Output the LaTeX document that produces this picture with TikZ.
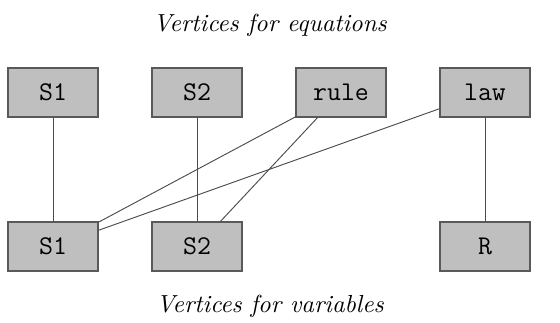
\documentclass[tikz,border=0pt]{standalone}
\begin{document}
\begin{tikzpicture}[x=0.4255pt,y=-0.4255pt,
  vbox/.style={draw=black!65,fill=black!25,line width=0.5pt,minimum width=90*0.4255pt,minimum height=49*0.4255pt,inner sep=0pt,font=\ttfamily\fontsize{11.5}{13}\selectfont},
  conn/.style={draw=black!70,line width=0.4pt},
  ttl/.style={font=\itshape\fontsize{10.5}{12}\selectfont,inner sep=0pt}]
\useasboundingbox (0,0) rectangle (560,322);
\node[ttl] (t1) at (270,25) {Vertices for equations};
\node[ttl] (t2) at (270,306) {Vertices for variables};
\node[vbox] (eS1) at (53,92.5) {S1};
\node[vbox] (eS2) at (197,92.5) {S2};
\node[vbox] (erule) at (341,92.5) {rule};
\node[vbox] (elaw) at (485,92.5) {law};
\node[vbox] (vS1) at (53,246.5) {S1};
\node[vbox] (vS2) at (197,246.5) {S2};
\node[vbox] (vR) at (485,246.5) {R};
\draw[conn] (eS1) -- (vS1);
\draw[conn] (eS2) -- (vS2);
\draw[conn] (elaw) -- (vR);
\draw[conn] (erule) -- (vS1);
\draw[conn] (erule) -- (vS2);
\draw[conn] (elaw) -- (vS1);
\end{tikzpicture}
\end{document}
